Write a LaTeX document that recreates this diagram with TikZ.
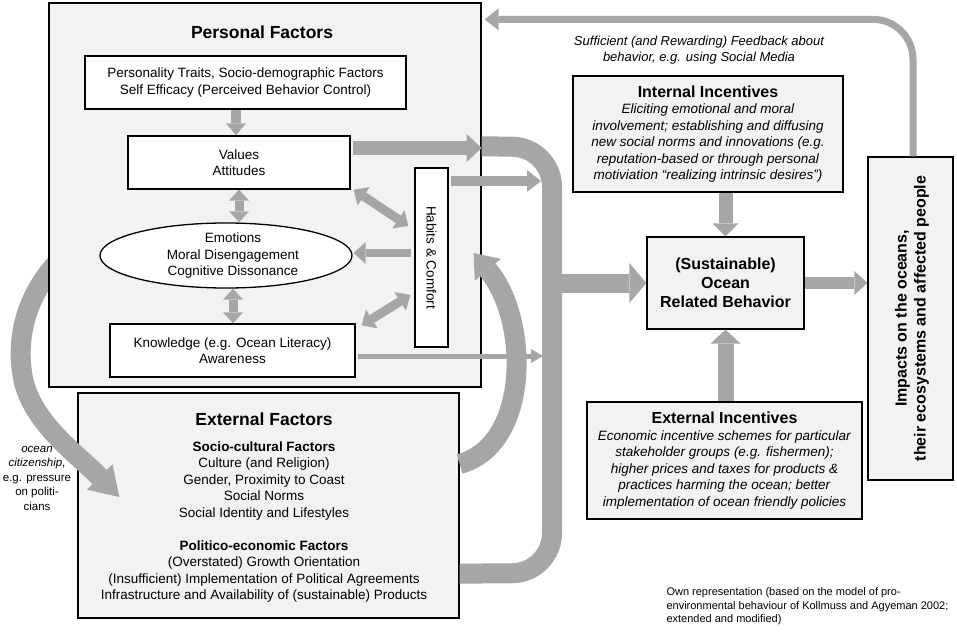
\documentclass[tikz,border=0pt]{standalone}
\usepackage{fontspec}
\setmainfont{Liberation Sans}
\usetikzlibrary{arrows.meta,calc,shapes.geometric}
\definecolor{agray}{HTML}{A6A6A6}
\definecolor{boxfill}{HTML}{F2F2F2}
\begin{document}
\begin{tikzpicture}[x=1pt,y=-1pt,
  fs/.style={font=\fontsize{13.5}{16.5}\selectfont},
  graybox/.style={draw=black,line width=1.3pt,fill=boxfill,inner sep=0pt,align=center},
  whitebox/.style={draw=black,line width=1.3pt,fill=white,inner sep=0pt,align=center,fs},
  ar/.style n args={3}{draw=agray,line width=#1,-{Triangle[width=#2,length=#3,line width=0pt]}},
  dar/.style n args={3}{draw=agray,line width=#1,{Triangle[width=#2,length=#3,line width=0pt]}-{Triangle[width=#2,length=#3,line width=0pt]}},
  bar/.style={draw=agray,line width=20pt,rounded corners=40pt},
  ttl/.style={font=\fontsize{17.5}{21}\selectfont\bfseries},
  ]
\useasboundingbox (0,0) rectangle (957,631);

% External factors box
\node[graybox,minimum width=381pt,minimum height=225pt] (ef) at (268.5,505.5) {};
\node[ttl] (eft) at (264,419) {External Factors};
\node[fs,align=center] (efc) at (264,522) {\textbf{Socio-cultural Factors}\\Culture (and Religion)\\Gender, Proximity to Coast\\Social Norms\\Social Identity and Lifestyles\\[16.5pt]\textbf{Politico-economic Factors}\\(Overstated) Growth Orientation\\(Insufficient) Implementation of Political Agreements\\Infrastructure and Availability of (sustainable) Products};

% ocean citizenship arrow (under personal box)
\coordinate (lstart) at (70,250);
\draw[ar={20pt}{36pt}{28pt}] (lstart) .. controls (30,285) and (16,330) .. (22,372) .. controls (28,420) and (75,452) .. ($(ef.west)+(42,-8.5)$);
\node[font=\fontsize{11.5}{14.5}\selectfont,align=center] (oc) at (37,478) {\textit{ocean}\\\textit{citizenship},\\e.g. pressure\\on politi-\\cians};

% Personal factors box
\node[graybox,minimum width=432pt,minimum height=384pt] (pf) at (265,195) {};
\node[ttl] (pft) at (262,32) {Personal Factors};
\node[whitebox,minimum width=321pt,minimum height=53pt] (pers) at (245.5,82.5) {Personality Traits, Socio-demographic Factors\\Self Efficacy (Perceived Behavior Control)};
\node[whitebox,minimum width=222pt,minimum height=53pt] (val) at (239,162.5) {Values\\Attitudes};
\node[whitebox,ellipse,minimum width=252pt,minimum height=65pt] (emo) at (226,255.5) {};
\node[fs,align=center] (emot) at (233,256) {Emotions\\Moral Disengagement\\Cognitive Dissonance};
\node[whitebox,minimum width=245pt,minimum height=53pt] (know) at (232.5,350.5) {Knowledge (e.g. Ocean Literacy)\\Awareness};
\node[whitebox,minimum width=33pt,minimum height=179pt] (hab) at (431.5,257.5) {};
\node[fs,rotate=-90] (habt) at (hab.center) {Habits \& Comfort};

% arrows inside personal factors
\draw[ar={10pt}{20pt}{12pt}] ([xshift=-9.5pt]pers.south) -- ([xshift=-9.5pt]pers.south |- val.north);
\draw[dar={9pt}{20pt}{11pt}] (val.south) -- (val.south |- emo.north);
\draw[dar={9pt}{20pt}{11pt}] ([xshift=0.5pt]know.north |- emo.south) -- ([xshift=0.5pt]know.north);
\draw[dar={9pt}{22pt}{12pt}] ($(val.south east)+(3,0)$) -- ($(hab.west)+(-6,-31.5)$);
\draw[ar={8pt}{22pt}{12pt}] ($(hab.west)+(-3,-4.5)$) -- ($(emo.east)+(1,-2.5)$);
\draw[dar={9pt}{22pt}{12pt}] ($(hab.west)+(-4,37.5)$) -- ($(know.north east)+(6,2)$);

% right side boxes
\node[graybox,minimum width=270pt,minimum height=116pt,fs] (ii) at (708,134) {{\fontsize{16}{19}\selectfont\bfseries Internal Incentives}\\\textit{Eliciting emotional and moral}\\\textit{involvement; establishing and diffusing}\\\textit{new social norms and innovations (e.g.}\\\textit{reputation-based or through personal}\\\textit{motiviation “realizing intrinsic desires”)}};
\node[graybox,minimum width=157pt,minimum height=92pt,font=\fontsize{16}{19}\selectfont\bfseries] (beh) at (725.5,283) {(Sustainable)\\Ocean\\Related Behavior};
\node[graybox,minimum width=275pt,minimum height=117pt,fs] (ei) at (724.5,460.5) {{\fontsize{16}{19}\selectfont\bfseries External Incentives}\\\textit{Economic incentive schemes for particular}\\\textit{stakeholder groups (e.g. fishermen);}\\\textit{higher prices and taxes for products \&}\\\textit{practices harming the ocean; better}\\\textit{implementation of ocean friendly policies}};
\node[graybox,minimum width=85pt,minimum height=323pt] (imp) at (910.5,318.5) {};
\node[rotate=90,align=center,font=\fontsize{16}{19}\selectfont\bfseries] (impt) at (912,318.5) {Impacts on the oceans,\\their ecosystems and affected people};

\node[font=\fontsize{13}{16}\selectfont\itshape,align=center] (fb) at (699,50) {Sufficient (and Rewarding) Feedback about\\behavior, e.g. using Social Media};
\node[font=\fontsize{11}{13.5}\selectfont,align=left,anchor=west] (note) at (663,606.5) {Own representation (based on the model of pro-\\environmental behaviour of Kollmuss and Agyeman 2002;\\extended and modified)};

% arrows to the big bar
\coordinate (vs) at ($(val.east)+(2,-14.5)$);
\draw[ar={14pt}{28pt}{15pt}] (vs) -- (pf.east |- vs);
\coordinate (hs) at ($(hab.east)+(2,-76.5)$);
\coordinate (he) at (541,181);
\draw[ar={10pt}{22pt}{14pt}] (hs) -- (he);
\coordinate (ks) at ($(know.east)+(2,5.5)$);
\coordinate (ke) at (543,356);
\draw[ar={5pt}{14pt}{12pt}] (ks) -- (ke);

% big bar
\draw[bar] ($(pf.north east)+(0,144)$) -- (552,147) -- (552,573) -- ($(ef.south east)+(0,-45)$);
\draw[ar={19pt}{40pt}{17pt}] ($(beh.west)+(-95,0)$) -- (beh.west);

% external factors -> habits
\draw[ar={20pt}{34pt}{22pt}] ($(ef.east)+(0,-41.5)$) .. controls (530,445) and (530,320) .. ($(hab.east)+(25,-4.5)$);

% incentives and impacts
\draw[ar={14pt}{26pt}{13pt}] (beh.north |- ii.south) -- (beh.north);
\draw[ar={16pt}{30pt}{14pt}] (beh.south |- ei.north) -- (beh.south);
\draw[ar={12pt}{24pt}{13pt}] (beh.east) -- (imp.west |- beh.east);

% feedback
\coordinate (fbs) at ($(imp.north)+(2.5,0)$);
\coordinate (fbc) at ($(imp.north)+(2.5,-137)$);
\draw[ar={7pt}{22pt}{14pt},rounded corners=40pt] (fbs) -- (fbc) -- ($(pf.north east)+(3,17)$);
\end{tikzpicture}
\end{document}
